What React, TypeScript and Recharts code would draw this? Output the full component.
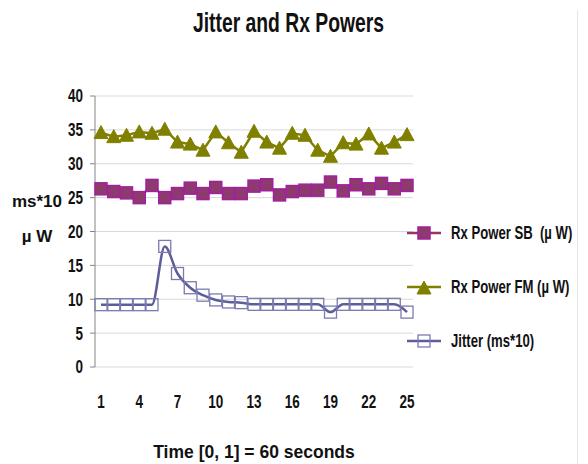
import { CartesianGrid, Legend, Line, LineChart, XAxis, YAxis } from "recharts";

const steps = [1, 2, 3, 4, 5, 6, 7, 8, 9, 10, 11, 12, 13, 14, 15, 16, 17, 18, 19, 20, 21, 22, 23, 24, 25];
const rxPowerSB = [26.3, 25.9, 25.7, 25.0, 26.8, 25.0, 25.6, 26.4, 25.6, 26.5, 25.6, 25.6, 26.7, 26.9, 25.4, 25.9, 26.1, 26.1, 27.3, 26.0, 26.9, 26.3, 27.1, 26.3, 26.8];
const rxPowerFM = [34.6, 34.0, 34.2, 34.7, 34.5, 35.1, 33.2, 32.9, 32.0, 34.7, 33.1, 31.7, 34.8, 33.2, 32.3, 34.5, 34.2, 32.0, 31.1, 33.1, 32.9, 34.4, 32.3, 33.2, 34.3];
const jitter = [9.2, 9.2, 9.2, 9.2, 9.2, 17.8, 13.8, 11.7, 10.6, 9.9, 9.6, 9.5, 9.25, 9.25, 9.25, 9.25, 9.25, 9.25, 8.1, 9.25, 9.25, 9.25, 9.25, 9.25, 8.1];
const yTicks = [0, 5, 10, 15, 20, 25, 30, 35, 40];
const frameTicks = [0, 5, 10, 15, 20, 25];

const data = steps.map((t, i) => ({
  t,
  sb: rxPowerSB[i],
  fm: rxPowerFM[i],
  jitter: jitter[i],
}));

// the picture's text is a tall, narrow bold face: Liberation Sans squeezed sideways
const FONT = "'Liberation Sans', Arial, sans-serif";
const AXIS = "#868686";
const INK = "#111";

const series = [
  { key: "sb", name: "Rx Power SB  (µ W)", line: "#993366", fill: "#8e3a6e", edge: "#a0209f", shape: "square" },
  { key: "fm", name: "Rx Power FM (µ W)", line: "#808000", fill: "#808000", edge: "#808000", shape: "triangle" },
  { key: "jitter", name: "Jitter (ms*10)", line: "#5d5d9c", fill: "none", edge: "#7b7bb0", shape: "open" },
];

function Marker({ cx, cy, shape, fill, edge }: any) {
  if (cx == null || cy == null) return null;
  if (shape === "triangle") {
    return <path d={`M${cx},${cy - 7} L${cx + 7},${cy + 6} L${cx - 7},${cy + 6} Z`} fill={fill} stroke={edge} strokeWidth={1} />;
  }
  return (
    <rect
      x={cx - 6}
      y={cy - 6}
      width={12}
      height={12}
      fill={shape === "open" ? "none" : fill}
      stroke={edge}
      strokeWidth={shape === "open" ? 1.3 : 1.5}
    />
  );
}

function XTick({ x, y, payload }: any) {
  return (
    <text
      transform={`translate(${x},${y}) scale(0.75,1)`}
      textAnchor="middle"
      dy="0.72em"
      fontFamily={FONT}
      fontWeight={700}
      fontSize={18}
      fill={INK}
    >
      {payload.value}
    </text>
  );
}

function YTick({ x, y, payload }: any) {
  return (
    <text
      transform={`translate(${x},${y}) scale(0.75,1)`}
      textAnchor="end"
      dy="0.36em"
      fontFamily={FONT}
      fontWeight={700}
      fontSize={18}
      fill={INK}
    >
      {payload.value}
    </text>
  );
}

function renderLegend() {
  return (
    <div style={{ width: 175, fontFamily: FONT, fontWeight: 700, fontSize: 17.5, color: INK }}>
      {series.map((s) => (
        <div key={s.key} style={{ display: "flex", alignItems: "center", height: 20, marginBottom: 34, marginLeft: -6 }}>
          <svg width={44} height={16} style={{ flex: "none" }}>
            <line x1={0} y1={8} x2={34} y2={8} stroke={s.line} strokeWidth={2.5} />
            <Marker cx={17} cy={s.shape === "triangle" ? 9 : 8} shape={s.shape} fill={s.fill} edge={s.edge} />
          </svg>
          <span
            style={{
              whiteSpace: "pre",
              display: "inline-block",
              transform: "scaleX(0.75)",
              transformOrigin: "left center",
            }}
          >
            {s.name}
          </span>
        </div>
      ))}
    </div>
  );
}

function YTitle({ viewBox }: any) {
  const x = (viewBox?.x ?? 0) + 37;
  const mid = (viewBox?.y ?? 0) + (viewBox?.height ?? 0) / 2;
  const style = { fontFamily: FONT, fontWeight: 700, fontSize: 17 } as const;
  return (
    <g fill={INK}>
      <text x={x} y={mid - 30} textAnchor="middle" dominantBaseline="central" style={style}>ms*10</text>
      <text x={x} y={mid + 5} textAnchor="middle" dominantBaseline="central" style={style}>µ W</text>
    </g>
  );
}

export default function App() {
  return (
    <div style={{ position: "absolute", left: 0, top: 0, width: 588, height: 464, background: "#fff" }}>
      <div
        style={{
          position: "absolute",
          left: 0,
          top: 9,
          width: 576,
          textAlign: "center",
          fontFamily: FONT,
          fontWeight: 700,
          fontSize: 28,
          lineHeight: 1,
          color: INK,
        }}
      >
        <span style={{ display: "inline-block", transform: "scaleX(0.69)", whiteSpace: "nowrap" }}>
          Jitter and Rx Powers
        </span>
      </div>
      <div style={{ position: "absolute", left: 577, top: 10, width: 1, height: 454, background: "#e6e6e6" }} />
      <LineChart width={588} height={464} data={data} margin={{ top: 96, right: 0, bottom: 0, left: 0 }}>
        <CartesianGrid vertical={false} stroke="#d9d9d9" />
        <XAxis
          xAxisId="frame"
          type="number"
          domain={[0, 25]}
          ticks={frameTicks}
          allowDataOverflow
          tick={false}
          height={0}
          tickSize={6}
          stroke={AXIS}
        />
        <XAxis
          dataKey="t"
          interval={2}
          padding={{ left: 6, right: 6 }}
          axisLine={false}
          tickLine={false}
          tickSize={6}
          tickMargin={22}
          height={97}
          tick={<XTick />}
          label={{
            value: "Time [0, 1] = 60 seconds",
            position: "insideBottom",
            offset: 6,
            style: { fontFamily: FONT, fontWeight: 700, fontSize: 17.5, fill: INK },
          }}
        />
        <YAxis
          domain={[0, 40]}
          ticks={yTicks}
          width={95}
          tickSize={5}
          tickMargin={7}
          stroke={AXIS}
          tick={<YTick />}
          label={{ content: <YTitle /> }}
        />
        <Legend layout="vertical" align="right" verticalAlign="top" wrapperStyle={{ top: 223 }} content={renderLegend} />
        {series.map((s) => (
          <Line
            key={s.key}
            dataKey={s.key}
            name={s.name}
            type={s.key === "jitter" ? "monotone" : "linear"}
            stroke={s.line}
            strokeWidth={2.5}
            isAnimationActive={false}
            dot={(p: any) => <Marker key={`${s.key}-${p.index}`} cx={p.cx} cy={p.cy} shape={s.shape} fill={s.fill} edge={s.edge} />}
            activeDot={false}
          />
        ))}
      </LineChart>
    </div>
  );
}
